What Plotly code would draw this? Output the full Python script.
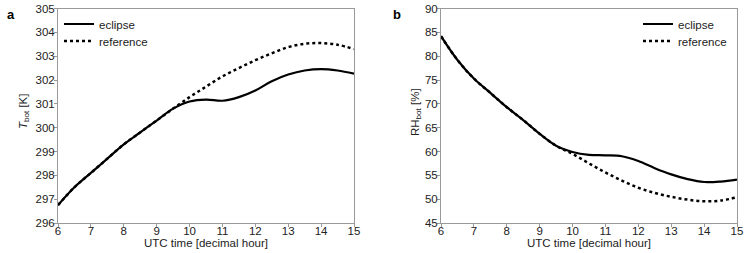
import plotly.graph_objects as go

hours = [6, 6.5, 7, 7.5, 8, 8.5, 9, 9.5, 10, 10.5, 11, 11.5, 12, 12.5, 13, 13.5, 14, 14.5, 15]
t_eclipse = [296.75, 297.5, 298.1, 298.7, 299.3, 299.8, 300.3, 300.8, 301.1, 301.18, 301.13, 301.28, 301.56, 301.95, 302.23, 302.4, 302.46, 302.4, 302.27]
t_reference = [296.75, 297.5, 298.1, 298.7, 299.3, 299.8, 300.3, 300.8, 301.28, 301.72, 302.15, 302.5, 302.83, 303.12, 303.38, 303.52, 303.55, 303.48, 303.3]
rh_eclipse = [84.2, 79.2, 75.3, 72.3, 69.3, 66.6, 63.7, 61.2, 59.9, 59.3, 59.2, 59.0, 58.0, 56.5, 55.2, 54.2, 53.6, 53.7, 54.1]
rh_reference = [84.2, 79.2, 75.3, 72.3, 69.3, 66.6, 63.7, 61.2, 59.5, 57.5, 55.6, 53.9, 52.4, 51.3, 50.5, 49.9, 49.55, 49.7, 50.4]

FONT = "Liberation Sans, Arial, sans-serif"
FS = 11.5
W, H = 748, 253


def px(x):
    return x / W


def py(y):
    return 1 - y / H


fig = go.Figure()

solid = dict(color="black", width=2.2, shape="spline", smoothing=1.0)
dotted = dict(color="black", width=2.5, dash="dot", shape="spline", smoothing=1.0)
fig.add_trace(go.Scatter(x=hours, y=t_reference, mode="lines", name="reference", line=dotted,
                         xaxis="x", yaxis="y", legend="legend3"))
fig.add_trace(go.Scatter(x=hours, y=t_eclipse, mode="lines", name="eclipse", line=solid,
                         xaxis="x", yaxis="y", legend="legend"))
fig.add_trace(go.Scatter(x=hours, y=rh_reference, mode="lines", name="reference", line=dotted,
                         xaxis="x2", yaxis="y2", legend="legend4"))
fig.add_trace(go.Scatter(x=hours, y=rh_eclipse, mode="lines", name="eclipse", line=solid,
                         xaxis="x2", yaxis="y2", legend="legend2"))

axis_common = dict(showgrid=False, zeroline=False, showline=True, linecolor="#999999", linewidth=1,
                   mirror=True, ticks="outside", ticklen=3, tickcolor="#999999", automargin=False,
                   ticklabeloverflow="allow",
                   tickfont=dict(family=FONT, size=FS, color="#222222"))
xax = dict(axis_common, ticklabelstandoff=-6)
yax = dict(axis_common, ticklabelstandoff=-3)

ydom = [py(223), py(8.5)]
txt = dict(family=FONT, size=FS, color="#222222")


def leg(x, y):
    return dict(x=px(x), y=py(y), xanchor="left", yanchor="middle", bgcolor="rgba(0,0,0,0)",
                font=txt, tracegroupgap=0, itemwidth=30)


fig.update_layout(
    width=W, height=H, margin=dict(l=0, r=0, t=0, b=0, autoexpand=False),
    paper_bgcolor="white", plot_bgcolor="white",
    font=txt,
    xaxis=dict(domain=[px(58), px(354)], range=[6, 15], dtick=1, anchor="y", **xax),
    yaxis=dict(domain=ydom, range=[296, 305], dtick=1, anchor="x", **yax),
    xaxis2=dict(domain=[px(441), px(737)], range=[6, 15], dtick=1, anchor="y2", **xax),
    yaxis2=dict(domain=ydom, range=[45, 90], dtick=5, anchor="x2", **yax),
    legend=leg(59, 24),
    legend3=leg(59, 41),
    legend2=leg(638, 24),
    legend4=leg(638, 41),
    showlegend=True,
    annotations=[
        dict(text="<b>a</b>", x=px(11), y=py(15), xref="paper", yref="paper",
             xanchor="center", yanchor="middle", showarrow=False, font=dict(family=FONT, size=13, color="black")),
        dict(text="<b>b</b>", x=px(397), y=py(15), xref="paper", yref="paper",
             xanchor="center", yanchor="middle", showarrow=False, font=dict(family=FONT, size=13, color="black")),
        dict(text="UTC time [decimal hour]", x=px(206), y=py(243), xref="paper", yref="paper",
             xanchor="center", yanchor="middle", showarrow=False, font=txt),
        dict(text="UTC time [decimal hour]", x=px(589), y=py(243), xref="paper", yref="paper",
             xanchor="center", yanchor="middle", showarrow=False, font=txt),
        dict(text="<i>T</i><sub>bot</sub> [K]", x=px(24), y=py(112), xref="paper", yref="paper",
             xanchor="center", yanchor="middle", showarrow=False, textangle=-90, font=txt),
        dict(text="RH<sub>bot</sub> [%]", x=px(416), y=py(112), xref="paper", yref="paper",
             xanchor="center", yanchor="middle", showarrow=False, textangle=-90, font=txt),
    ],
)

fig.write_html("out.html", config={"displayModeBar": False},
               post_script="document.body.style.margin='0px';document.body.style.overflow='hidden';")
